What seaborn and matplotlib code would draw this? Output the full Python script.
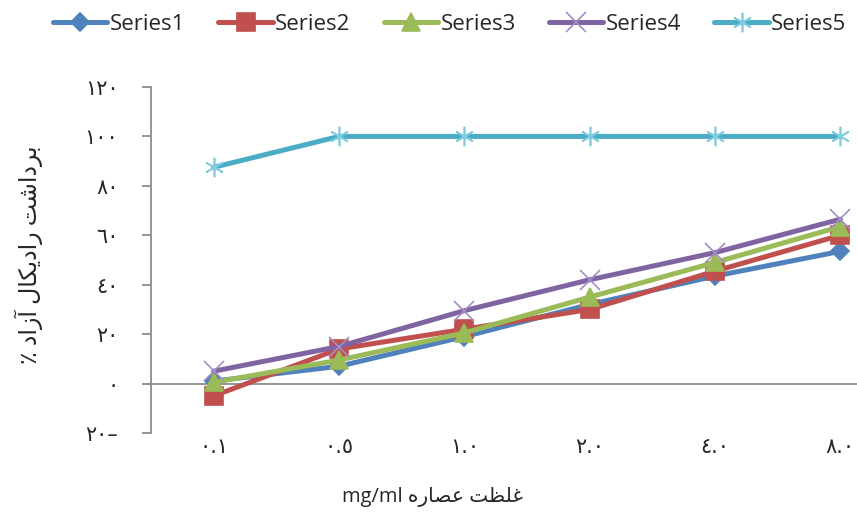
import numpy as np
import pandas as pd
import matplotlib
matplotlib.use("Agg")
import matplotlib.pyplot as plt
import seaborn as sns

# data
conc = ["\u0660.\u0661", "\u0660.\u0665", "\u0661.\u0660", "\u0662.\u0660", "\u0664.\u0660", "\u0668.\u0660"]
series1 = [1, 7, 19, 32, 43.5, 53.5]
series2 = [-5, 14, 22, 30, 45.5, 60]
series3 = [0.5, 9.5, 20.5, 35, 49, 63.5]
series4 = [5, 15, 29.5, 42, 53, 66.5]
series5 = [87.5, 100, 100, 100, 100, 100]
names = ["Series1", "Series2", "Series3", "Series4", "Series5"]
yticks = [-20, 0, 20, 40, 60, 80, 100, 120]
ytick_labels = ["\u0662\u0660\u2013", "\u0660", "\u0662\u0660", "\u0664\u0660", "\u0666\u0660",
                "\u0668\u0660", "\u0661\u0660\u0660", "\u0661\u0662\u0660"]

# Persian labels, already shaped (presentation forms, visual order)
xlabel = "mg/ml \uFEE9\uFEAD\uFE8E\uFEBC\uFECB \uFE96\uFEC8\uFEE0\uFECF"
ylabel = "\u066A \uFEA9\uFE8D\uFEAF\uFE81 \uFEDD\uFE8E\uFEDC\uFEF3\uFEA9\uFE8D\uFEAD \uFE96\uFEB7\uFE8D\uFEA9\uFEAE\uFE91"

sns.set_style("white")
plt.rcParams['font.family'] = ['DejaVu Sans']

colors = ["#4F81BD", "#C0504D", "#9BBB59", "#8064A2", "#4BACC6"]
mcolors = ["#4F81BD", "#C0504D", "#9BBB59", "#A48FC4", "#7FCBE0"]
markers = ["D", "s", "^", "x", (6, 2, 0)]
msizes = [9, 13, 13, 14, 14]

fig = plt.figure(figsize=(8.57, 5.13), dpi=100)
ax = fig.add_axes([151 / 857, 80 / 513, 752 / 857, 346 / 513])

all_series = [series1, series2, series3, series4, series5]
for i, vals in enumerate(all_series):
    df = pd.DataFrame({"conc": conc, "val": vals})
    sns.lineplot(data=df, x="conc", y="val", ax=ax, color=colors[i], lw=3.6,
                 marker=markers[i], markersize=msizes[i], markerfacecolor=mcolors[i],
                 markeredgecolor=mcolors[i], markeredgewidth=1.2, label=names[i],
                 sort=False, zorder=3 + i)

handles, labels = ax.get_legend_handles_labels()
if ax.get_legend() is not None:
    ax.get_legend().remove()

ax.set_xlim(-0.5, 5.5)
ax.set_ylim(-20, 120)
ax.set_yticks(yticks)
ax.set_yticklabels(ytick_labels, fontsize=15)
ax.axhline(0, color="#8C8C8C", lw=1.3, zorder=1)

for s in ["top", "right", "bottom"]:
    ax.spines[s].set_visible(False)
ax.spines["left"].set_color("#8C8C8C")
ax.spines["left"].set_linewidth(1.3)
ax.tick_params(axis="y", length=6.5, width=1.3, color="#8C8C8C", pad=17, direction="out", left=True)
ax.tick_params(axis="x", length=0, pad=3, labelsize=15)

lab_font = ["Open Sans", "DejaVu Sans"]
ax.set_xlabel(xlabel, fontsize=14.5, family=lab_font)
ax.set_ylabel(ylabel, fontsize=17, family=lab_font)
ax.xaxis.set_label_coords((432 - 151) / 752, -0.155)
ax.yaxis.set_label_coords(-0.144, 0.515)

fig.legend(handles, labels, loc="center left", bbox_to_anchor=(53 / 857, 1 - 24 / 513),
           ncol=5, frameon=False, handlelength=2.45, handletextpad=0.1, columnspacing=1.5,
           prop={"family": "Open Sans", "size": 16}, borderaxespad=0, borderpad=0)

fig.savefig("out.png", dpi=100)
